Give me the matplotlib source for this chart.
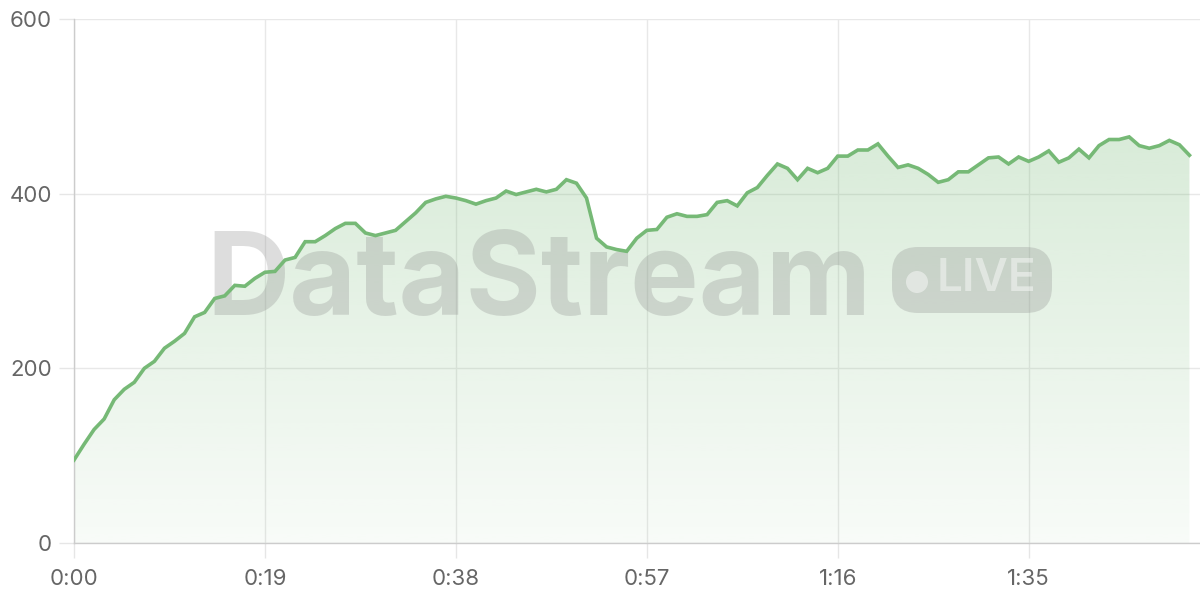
import matplotlib
matplotlib.use("Agg")
import matplotlib.pyplot as plt
import numpy as np
from matplotlib.patches import FancyBboxPatch, Circle
from matplotlib.transforms import IdentityTransform

seconds = list(range(112))
values = [95, 113, 130, 142, 164, 176, 184, 200, 208, 223,
          231, 240, 259, 264, 280, 283, 295, 294, 303, 310,
          311, 324, 327, 345, 345, 352, 360, 366, 366, 355,
          352, 355, 358, 368, 378, 390, 394, 397, 395, 392,
          388, 392, 395, 403, 399, 402, 405, 402, 405, 416,
          412, 395, 349, 339, 336, 334, 349, 358, 359, 373,
          377, 374, 374, 376, 390, 392, 386, 401, 407, 421,
          434, 429, 416, 429, 424, 429, 443, 443, 450, 450,
          457, 443, 430, 433, 429, 422, 413, 416, 425, 425,
          433, 441, 442, 434, 442, 437, 442, 449, 436, 441,
          451, 441, 455, 462, 462, 465, 455, 452, 455, 461,
          456, 444]
x_ticks = [0, 19, 38, 57, 76, 95]
x_tick_labels = ["0:00", "0:19", "0:38", "0:57", "1:16", "1:35"]
y_ticks = [0, 200, 400, 600]

plt.rcParams['font.family'] = ['Inter', 'DejaVu Sans']

fig = plt.figure(figsize=(12, 6), dpi=100)
ax = fig.add_axes([74/1200, 57/600, (1200-74)/1200, (543-19)/600])

green = np.array([118, 185, 118]) / 255.0
x = np.array(seconds)
y = np.array(values)

# gradient fill
poly = ax.fill_between(x, y, 0, color='none', lw=0)
ymax = y.max()
n = 256
grad = np.zeros((n, 1, 4))
grad[:, 0, :3] = green
grad[:, 0, 3] = np.linspace(0.28, 0.05, n)
img = ax.imshow(grad, aspect='auto', extent=[x.min(), x.max(), 0, ymax],
                origin='upper', zorder=1, interpolation='bilinear')
path = poly.get_paths()[0]
img.set_clip_path(path, transform=ax.transData)

ax.plot(x, y, color='#76b976', lw=2.6, zorder=4, solid_joinstyle='miter')

ax.set_xlim(0, 112.05)
ax.set_ylim(0, 600)
ax.set_xticks(x_ticks)
ax.set_xticklabels(x_tick_labels)
ax.set_yticks(y_ticks)
ax.grid(True, color='#e8e8e8', lw=1, zorder=0)
ax.set_axisbelow(True)
for s in ['top', 'right']:
    ax.spines[s].set_visible(False)
for s in ['left', 'bottom']:
    ax.spines[s].set_color('#cccccc')
    ax.spines[s].set_linewidth(1)
ax.tick_params(axis='both', length=11, width=1, color='#e6e6e6',
               labelsize=16, labelcolor='#666666')
ax.tick_params(axis='x', pad=7.5)
ax.tick_params(axis='y', pad=5)

# watermark
ax.text(539, 600-315, "DataStream", transform=IdentityTransform(),
        ha='center', va='baseline', fontsize=83, fontweight='bold',
        color='#888888', alpha=0.28, zorder=2, clip_on=False)
badge = FancyBboxPatch((892, 600-313), 160, 66,
                       boxstyle="round,pad=0,rounding_size=26",
                       transform=IdentityTransform(), facecolor='#888888',
                       alpha=0.28, edgecolor='none', zorder=2, clip_on=False)
ax.add_artist(badge)
dot = Circle((917, 600-282), 11, transform=IdentityTransform(),
             facecolor='white', alpha=0.45, edgecolor='none', zorder=2.5, clip_on=False)
ax.add_artist(dot)
ax.text(986, 600-279, "LIVE", transform=IdentityTransform(),
        ha='center', va='center', fontsize=33, fontweight='semibold',
        color='white', alpha=0.45, zorder=2.5, clip_on=False)

fig.savefig("out.png", dpi=100)
